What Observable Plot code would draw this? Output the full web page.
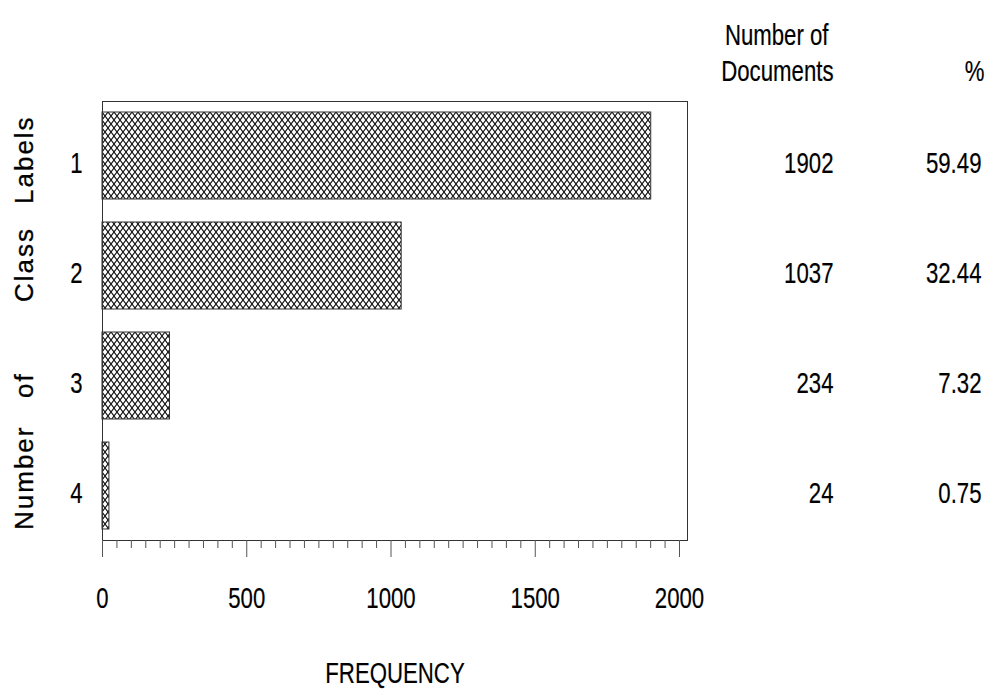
<!DOCTYPE html>
<html>
<head>
<meta charset="utf-8">
<script src="https://cdn.jsdelivr.net/npm/d3@7"></script>
<script src="https://cdn.jsdelivr.net/npm/@observablehq/plot@0.6"></script>
<style>
  body { margin: 0; background: #fff; }
  #chart svg { display: block; }
</style>
</head>
<body>
<div id="chart"></div>
<script>
// Number of class labels per document and how many documents have that count
const classCounts = ["1", "2", "3", "4"];
const documents = [1902, 1037, 234, 24];
const percents = ["59.49", "32.44", "7.32", "0.75"];
const majorTicks = [0, 500, 1000, 1500, 2000];
const minorTicks = d3.range(0, 2001, 50).filter(v => v % 500 !== 0);
const yTitle = "Number of Class Labels";
// offset of each word along the rotated title, from its start
const yTitleWordOffsets = [0, 132, 228, 326];

const rows = classCounts.map((k, i) => ({k, n: documents[i], pct: percents[i]}));

const sans = '"Liberation Sans", Arial, sans-serif';

const chart = Plot.plot({
  width: 1001,
  height: 694,
  marginLeft: 102,
  marginRight: 314,
  marginTop: 101,
  marginBottom: 154,
  style: {fontFamily: sans, fontSize: "30px", color: "#000", background: "#fff"},
  x: {domain: [0, 2000], range: [102, 679]},
  y: {domain: classCounts, paddingInner: 0.21, paddingOuter: 0.1},
  marks: [
    Plot.barX(rows, {y: "k", x: "n", fill: "url(#xhatch)", stroke: "#333", strokeWidth: 1}),
    Plot.frame({stroke: "#333"}),
    Plot.axisX({ticks: minorTicks, tickSize: 8, tickFormat: () => "", stroke: "#555", label: null}),
    Plot.axisX({ticks: majorTicks, tickSize: 17, tickPadding: 29, tickFormat: d => String(d), stroke: "#555", label: null}),
    Plot.axisY({tickSize: 0, tickPadding: 20, dy: 7, label: null}),
    Plot.text(["FREQUENCY"], {text: d => d, frameAnchor: "bottom", lineAnchor: "middle", dy: 133}),
    Plot.text([yTitle], {
      text: d => d, frameAnchor: "left", lineAnchor: "middle", textAnchor: "start",
      rotate: -90, dx: -78, dy: 209, fontSize: 26
    }),
    // table columns to the right of the frame
    Plot.text(rows, {y: "k", text: d => String(d.n), frameAnchor: "right", textAnchor: "end", dx: 146, dy: 7}),
    Plot.text(rows, {y: "k", text: "pct", frameAnchor: "right", textAnchor: "end", dx: 294, dy: 7}),
    Plot.text(["Number of"], {text: d => d, frameAnchor: "top-right", lineAnchor: "middle", textAnchor: "end", dx: 141, dy: -66}),
    Plot.text(["Documents"], {text: d => d, frameAnchor: "top-right", lineAnchor: "middle", textAnchor: "end", dx: 146, dy: -30}),
    Plot.text(["%"], {text: d => d, frameAnchor: "top-right", lineAnchor: "middle", textAnchor: "end", dx: 297, dy: -30})
  ]
});

// cross-hatch fill used by the bars
const ns = "http://www.w3.org/2000/svg";
const defs = document.createElementNS(ns, "defs");
defs.innerHTML =
  '<pattern id="xhatch" patternUnits="userSpaceOnUse" width="6" height="8">' +
  '<rect width="6" height="8" fill="#fff"/>' +
  '<path d="M0,0L6,8M6,0L0,8M-3,-4L3,4M3,4L9,12M3,-4L-3,4M9,4L3,12" stroke="#111" stroke-width="1.1"/>' +
  '</pattern>';
chart.insertBefore(defs, chart.firstChild);

document.getElementById("chart").appendChild(chart);

// condensed lettering for the labels; the rotated title is spread word by word
chart.querySelectorAll("text").forEach(t => {
  if (t.textContent === yTitle) {
    const words = yTitle.split(" ");
    t.textContent = "";
    t.setAttribute("letter-spacing", "2");
    t.setAttribute("stroke", "#000");
    t.setAttribute("stroke-width", "0.3");
    words.forEach((word, i) => {
      const span = document.createElementNS(ns, "tspan");
      span.setAttribute("x", yTitleWordOffsets[i]);
      span.textContent = word;
      t.appendChild(span);
    });
    return;
  }
  const w = t.getComputedTextLength();
  if (!w) return;
  t.setAttribute("textLength", (w * 0.74).toFixed(1));
  t.setAttribute("lengthAdjust", "spacingAndGlyphs");
  t.setAttribute("stroke", "#000");
  t.setAttribute("stroke-width", "0.2");
});
</script>
</body>
</html>
